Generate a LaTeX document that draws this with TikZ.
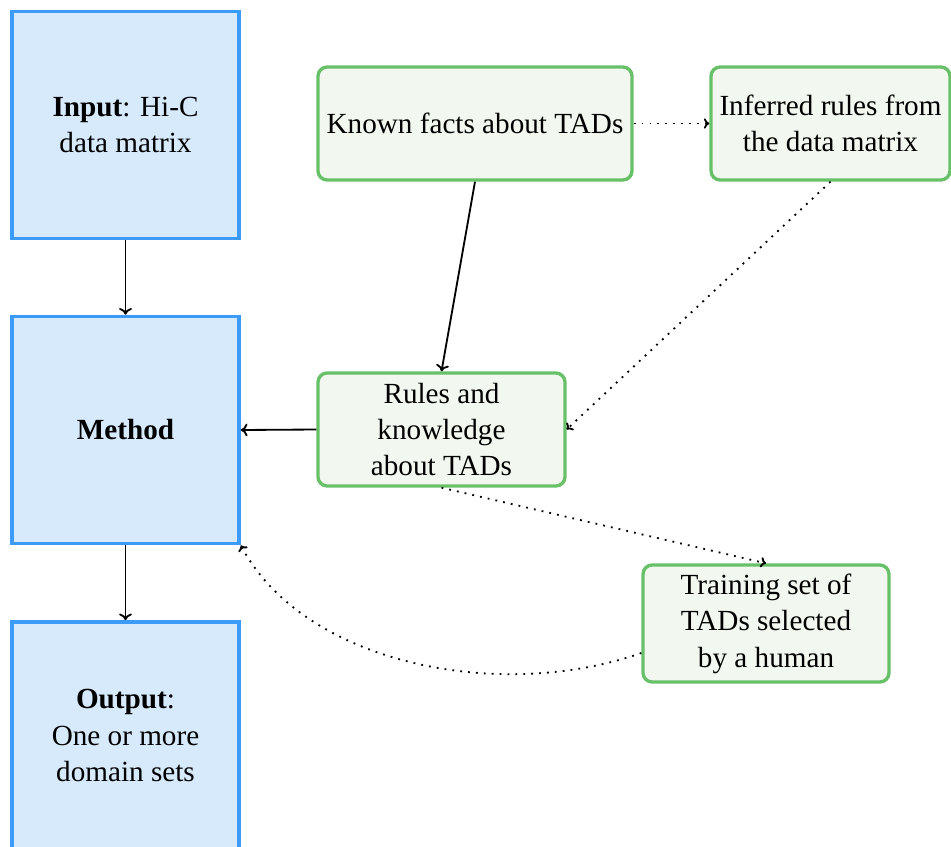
\documentclass[tikz,border=0pt]{standalone}
\usepackage{fontspec}
\setmainfont{Liberation Serif}
\usetikzlibrary{arrows.meta}
\definecolor{bblue}{RGB}{61,155,248}
\definecolor{bfill}{RGB}{214,234,252}
\definecolor{ggreen}{RGB}{104,192,104}
\definecolor{gfill}{RGB}{242,248,240}
\begin{document}
\begin{tikzpicture}[x=0.32895pt, y=-0.32895pt,
  every node/.style={font=\fontsize{9.6pt}{12pt}\selectfont},
  bluebox/.style={draw=bblue, fill=bfill, line width=1.2pt, minimum width=74.67pt, minimum height=74.67pt, inner sep=0pt, align=center},
  greenbox/.style={draw=ggreen, fill=gfill, line width=1.1pt, rounded corners=3pt, minimum height=37.17pt, inner sep=0pt, align=center},
  arr/.style={-{To[length=2.2pt,width=4.2pt]}, line width=0.6pt},
  dotarr/.style={-{To[length=1.8pt,width=3.4pt]}, dotted, line width=0.6pt}]
\useasboundingbox (0,0) rectangle (951,846);
\node[bluebox] (input) at (125.5,125) {\textbf{Input}: Hi-C\\data matrix};
\node[bluebox] (method) at (125.5,430) {\textbf{Method}};
\node[bluebox] (output) at (125.5,735.5) {\textbf{Output}:\\One or more\\domain sets};
\node[greenbox, minimum width=103.3pt] (known) at (475,123.5) {Known facts about TADs};
\node[greenbox, minimum width=78.6pt] (inferred) at (830.5,123.5) {Inferred rules from\\the data matrix};
\node[greenbox, minimum width=81.25pt] (rules) at (441.5,429.5) {Rules and\\knowledge\\about TADs};
\node[greenbox, minimum width=80.9pt, minimum height=38.5pt] (train) at (766,623.5) {Training set of\\TADs selected\\by a human};
\draw[arr] (input) -- (method);
\draw[arr] (method) -- (output);
\draw[arr] (known.south) -- (rules.north);
\draw[arr] (rules.west) -- (method.east);
\draw[dotarr] (known.east) -- (inferred.west);
\draw[dotarr] (inferred.south) -- (rules.east);
\draw[dotarr] (rules.south) -- (train.north);
\draw[dotarr] ([yshift=-9.7pt]train.west) .. controls +(-143,50) and +(63,118) .. (method.south east);
\end{tikzpicture}
\end{document}
